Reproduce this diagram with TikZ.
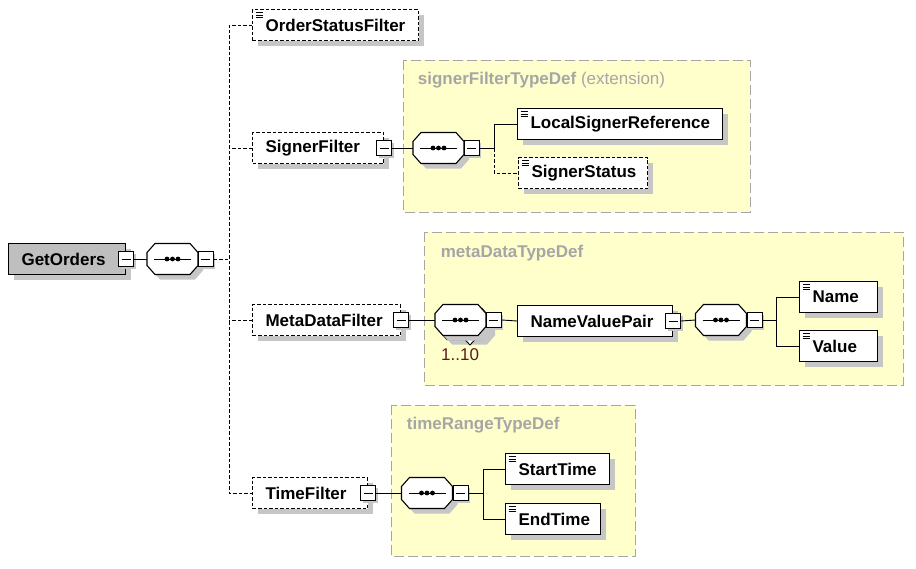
\documentclass[tikz,border=0pt]{standalone}
\usepackage{fontspec}
\setmainfont{Liberation Sans}
\usepackage{tikz}
\usetikzlibrary{shadows}

\definecolor{typefill}{HTML}{FFFFCC}
\definecolor{typeline}{HTML}{A6A6A6}
\definecolor{shade}{HTML}{C6C6C6}
\definecolor{occurs}{HTML}{5C1A1A}

\tikzset{
	elem/.style={draw, line width=1.1pt, fill=white, anchor=west, text width=#1, align=left,
		inner xsep=13pt, inner ysep=2pt, minimum height=31pt, font=\bfseries,
		execute at begin node={\hyphenpenalty=10000},
		general shadow={fill=shade, shadow xshift=5pt, shadow yshift=-5pt}},
	opt/.style={dash pattern=on 3.5pt off 2pt},
	leaf/.style={path picture={
		\foreach \d in {3,5.5,8}
		\draw[solid, black, line width=0.8pt] ([shift={(3pt,-\d pt)}]path picture bounding box.north west) -- ++(7pt,0);}},
	seq/.style={minimum width=51pt, minimum height=31pt, inner sep=0pt, outer sep=0pt},
	octo/.style={draw, line width=1.1pt, fill=white,
		general shadow={fill=shade, shadow xshift=5pt, shadow yshift=-5pt}},
	btn/.style={draw, line width=0.9pt, fill=white, minimum size=15pt, inner sep=0pt,
		general shadow={fill=shade, shadow xshift=2pt, shadow yshift=-2pt},
		path picture={\draw[black, line width=0.9pt] ([xshift=3pt]path picture bounding box.west) -- ([xshift=-3pt]path picture bounding box.east);}},
	typebox/.style={fill=typefill, draw=typeline, line width=1pt, dash pattern=on 10pt off 4pt},
	typename/.style={anchor=west, text=typeline},
	link/.style={line width=0.9pt}
}

% octagon round a seq node
\newcommand{\octagon}[1]{%
	\draw [octo] ([xshift=8pt]#1.north west) -- ([xshift=-8pt]#1.north east) -- ([yshift=-9pt]#1.north east)
	-- ([yshift=9pt]#1.south east) -- ([xshift=-8pt]#1.south east) -- ([xshift=8pt]#1.south west)
	-- ([yshift=9pt]#1.south west) -- ([yshift=-9pt]#1.north west) -- cycle;}
% sequence compositor: name, position
\newcommand{\seqbox}[2]{%
	\node [seq] (#1) at (#2) {};
	\octagon{#1}
	\draw [link] ([xshift=7pt]#1.west) -- ([xshift=-7pt]#1.east);
	\foreach \d in {-5.5,0,5.5}
	\fill ([xshift=\d pt]#1.center) circle (2.4pt);}

\begin{document}
\begin{tikzpicture}[x=1pt, y=-1pt, node font=\fontsize{17}{20}\selectfont]
	\useasboundingbox (0,0) rectangle (916,568);
	
	% type regions
	\draw [typebox] (403,60) rectangle (750,212);
	\draw [typebox] (424,232) rectangle (903,385);
	\draw [typebox] (391,405) rectangle (635,556);
	\node [typename] (sftype) at (412,80) {\textbf{signerFilterTypeDef} (extension)};
	\node [typename, font=\bfseries] (mdtype) at (435,253) {metaDataTypeDef};
	\node [typename, font=\bfseries] (trtype) at (401,425) {timeRangeTypeDef};
	
	% root
	\node [elem=91pt, fill=black!25] (go) at (8,259) {GetOrders};
	\node [btn] (gobtn) at (go.east) {};
	\seqbox{seq0}{172.5,259}
	\node [btn, anchor=west] (seq0btn) at (seq0.east) {};
	
	% children
	\node [elem=140pt, opt, leaf] (osf) at (252,25) {OrderStatusFilter};
	\node [elem=105pt, opt] (sf) at (252,148) {SignerFilter};
	\node [btn] (sfbtn) at (sf.east) {};
	\node [elem=122pt, opt] (mdf) at (252,320) {MetaDataFilter};
	\node [btn] (mdfbtn) at (mdf.east) {};
	\node [elem=89pt, opt] (tf) at (252,493) {TimeFilter};
	\node [btn] (tfbtn) at (tf.east) {};
	
	% signerFilterTypeDef
	\seqbox{seq1}{438.5,148}
	\node [btn, anchor=west] (seq1btn) at (seq1.east) {};
	\node [elem=179pt, leaf] (lsr) at (517,124) {LocalSignerReference};
	\node [elem=103pt, opt, leaf] (ss) at (518,173) {SignerStatus};
	
	% metaDataTypeDef
	\node [seq] (seq2rep) at (464.5,324) {};
	\octagon{seq2rep}
	\draw [link, fill=white] (464,338.5) -- (470,345) -- (476,338.5);
	\seqbox{seq2}{460.5,320}
	\node [btn, anchor=west] (seq2btn) at (seq2.east) {};
	\node [anchor=west, text=occurs, inner xsep=0pt] (rep) at (441,355) {1..10};
	\node [elem=129pt] (nvp) at (517,321) {NameValuePair};
	\node [btn] (nvpbtn) at (nvp.east) {};
	\seqbox{seq3}{721,320}
	\node [btn, anchor=west] (seq3btn) at (seq3.east) {};
	\node [elem=52pt, leaf] (nm) at (799,297) {Name};
	\node [elem=52pt, leaf] (val) at (799,346) {Value};
	
	% timeRangeTypeDef
	\seqbox{seq4}{427,493}
	\node [btn, anchor=west] (seq4btn) at (seq4.east) {};
	\node [elem=78pt, leaf] (st) at (505,469) {StartTime};
	\node [elem=69pt, leaf] (et) at (505,519) {EndTime};
	
	% connectors
	\coordinate (trunk) at (229,259);
	\draw [link] (gobtn.east) -- (seq0.west);
	\draw [link, opt] (seq0btn.east) -- (trunk);
	\draw [link, opt] (osf.west) -| (trunk) |- (tf.west);
	\draw [link, opt] (sf.west) -- (sf.west -| trunk);
	\draw [link, opt] (mdf.west) -- (mdf.west -| trunk);
	
	\coordinate (br1) at (494,148);
	\draw [link] (sfbtn.east) -- (seq1.west);
	\draw [link] (seq1btn.east) -- (br1) |- (lsr.west);
	\draw [link, opt] (br1) |- (ss.west);
	
	\coordinate (br3) at (776,320);
	\draw [link] (mdfbtn.east) -- (seq2.west);
	\draw [link] (seq2btn.east) -- (nvp.west);
	\draw [link] (nvpbtn.east) -- (seq3.west);
	\draw [link] (seq3btn.east) -- (br3) |- (nm.west);
	\draw [link] (br3) |- (val.west);
	
	\coordinate (br4) at (483,493);
	\draw [link] (tfbtn.east) -- (seq4.west);
	\draw [link] (seq4btn.east) -- (br4) |- (st.west);
	\draw [link] (br4) |- (et.west);
\end{tikzpicture}
\end{document}
